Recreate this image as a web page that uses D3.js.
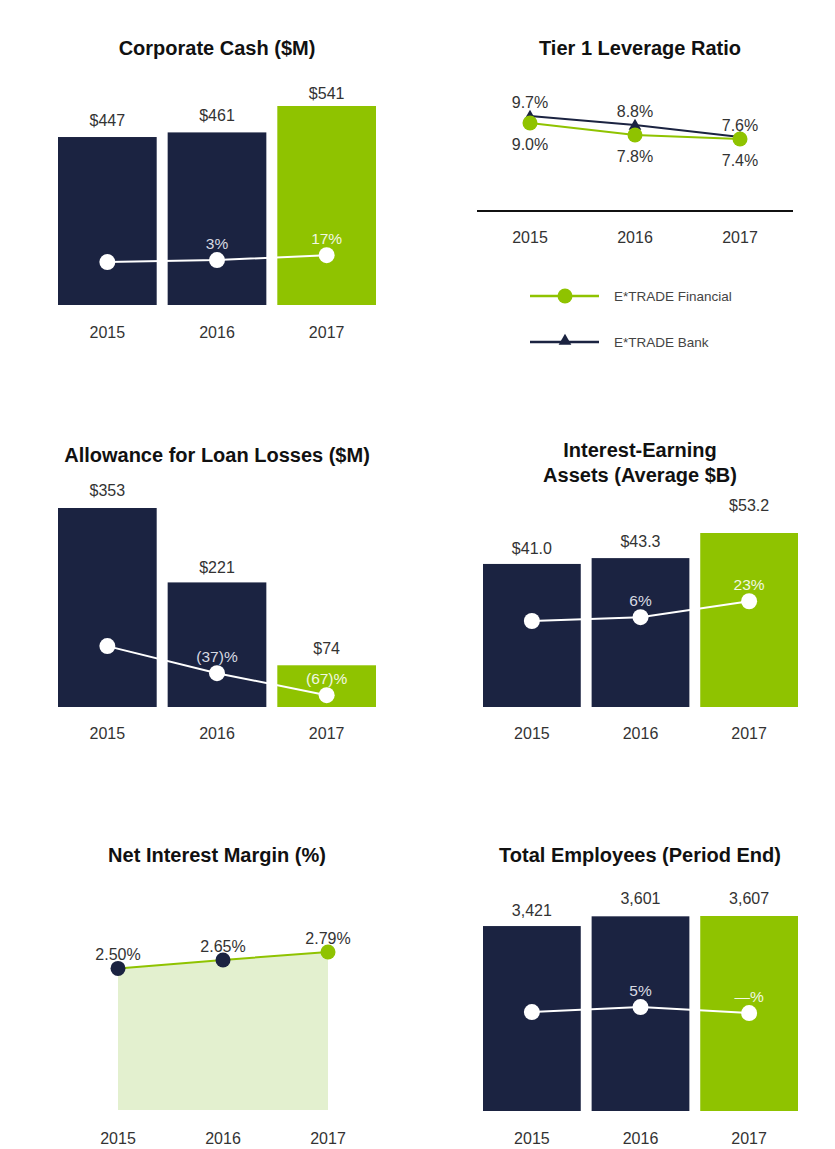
<!DOCTYPE html>
<html>
<head>
<meta charset="utf-8">
<script src="https://cdn.jsdelivr.net/npm/d3@7"></script>
<style>
body { margin: 0; background: #fff; }
text { font-family: "Liberation Sans", Arial, sans-serif; }
.title { font-size: 20px; font-weight: bold; fill: #111; }
.value, .year { font-size: 16px; fill: #333; }
.growth { font-size: 15.5px; }
.legend { font-size: 13.5px; fill: #444; }
</style>
</head>
<body>
<script>
const width = 835
const height = 1149
const navy = "#1b2341"
const green = "#8fc300"

const years = ["2015", "2016", "2017"]

const cashValues = [447, 461, 541]
const cashLabels = ["$447", "$461", "$541"]
const cashTrend = [68, 74, 89]
const cashGrowth = ["", "3%", "17%"]

const allowanceValues = [353, 221, 74]
const allowanceLabels = ["$353", "$221", "$74"]
const allowanceTrend = [108, 60, 21]
const allowanceGrowth = ["", "(37)%", "(67)%"]

const assetValues = [41.0, 43.3, 53.2]
const assetLabels = ["$41.0", "$43.3", "$53.2"]
const assetTrend = [18.5, 20.0, 26.3]
const assetGrowth = ["", "6%", "23%"]

const employeeValues = [3421, 3601, 3607]
const employeeLabels = ["3,421", "3,601", "3,607"]
const employeeTrend = [1830, 1922, 1811]
const employeeGrowth = ["", "5%", "—%"]

const leverageFinancial = [9.0, 7.8, 7.4]
const leverageBank = [9.7, 8.8, 7.6]
const leverageSeries = ["E*TRADE Financial", "E*TRADE Bank"]

const nimValues = [2.50, 2.65, 2.79]
const nimLabels = ["2.50%", "2.65%", "2.79%"]

const svg = d3.select("body").append("svg")
    .attr("width", width)
    .attr("height", height)
svg.append("rect").attr("width", width).attr("height", height).attr("fill", "#fff")

function title(lines, cx, y) {
    lines.forEach((line, i) => {
        svg.append("text")
            .attr("class", "title")
            .attr("x", cx)
            .attr("y", y + i * 25)
            .attr("text-anchor", "middle")
            .text(line)
    })
}

// bar panel with a white growth line across the bars
function barPanel(opts) {
    const {values, labels, trend, growth, x0, x1, base, top, domain, yearY, lift} = opts
    const x = d3.scaleBand().domain(years).range([x0, x1]).paddingInner(0.1).paddingOuter(0)
    const y = d3.scaleLinear().domain(domain).range([base, top])
    const g = svg.append("g")
    const rows = years.map((yr, i) => ({yr, i, v: values[i], label: labels[i], t: trend[i], growth: growth[i]}))

    g.selectAll("rect.bar").data(rows).enter().append("rect")
        .attr("class", "bar")
        .attr("x", d => x(d.yr))
        .attr("width", x.bandwidth())
        .attr("y", d => y(d.v))
        .attr("height", d => base - y(d.v))
        .attr("fill", d => d.i === 2 ? green : navy)

    g.selectAll("text.value").data(rows).enter().append("text")
        .attr("class", "value")
        .attr("x", d => x(d.yr) + x.bandwidth() / 2)
        .attr("y", d => y(d.v) - 11 - (lift ? lift[d.i] : 0))
        .attr("text-anchor", "middle")
        .text(d => d.label)

    const cx = d => x(d.yr) + x.bandwidth() / 2
    g.append("path")
        .datum(rows)
        .attr("d", d3.line().x(cx).y(d => y(d.t)))
        .attr("fill", "none")
        .attr("stroke", "#fff")
        .attr("stroke-width", 2)
    g.selectAll("circle.trend").data(rows).enter().append("circle")
        .attr("cx", cx)
        .attr("cy", d => y(d.t))
        .attr("r", 8)
        .attr("fill", "#fff")
    g.selectAll("text.growth").data(rows).enter().append("text")
        .attr("class", "growth")
        .attr("x", cx)
        .attr("y", d => y(d.t) - 11)
        .attr("text-anchor", "middle")
        .attr("fill", d => d.i === 2 ? "#f2f8e2" : "#d8dae2")
        .text(d => d.growth)

    g.selectAll("text.year").data(rows).enter().append("text")
        .attr("class", "year")
        .attr("x", cx)
        .attr("y", yearY)
        .attr("text-anchor", "middle")
        .text(d => d.yr)
}

// Corporate Cash
title(["Corporate Cash ($M)"], 217, 55)
barPanel({values: cashValues, labels: cashLabels, trend: cashTrend, growth: cashGrowth,
    x0: 58, x1: 376, base: 305, top: 106, domain: [-62, 541], yearY: 338, lift: [0, 0, -4]})

// Allowance for Loan Losses
title(["Allowance for Loan Losses ($M)"], 217, 462)
barPanel({values: allowanceValues, labels: allowanceLabels, trend: allowanceTrend, growth: allowanceGrowth,
    x0: 58, x1: 376, base: 707, top: 508, domain: [0, 353], yearY: 739, lift: [1, -2, 0]})

// Interest-Earning Assets
title(["Interest-Earning", "Assets (Average $B)"], 640, 457)
barPanel({values: assetValues, labels: assetLabels, trend: assetTrend, growth: assetGrowth,
    x0: 483, x1: 798, base: 707, top: 533, domain: [-15.4, 53.2], yearY: 739, lift: [-1, 0, 11]})

// Total Employees
title(["Total Employees (Period End)"], 640, 862)
barPanel({values: employeeValues, labels: employeeLabels, trend: employeeTrend, growth: employeeGrowth,
    x0: 483, x1: 798, base: 1111, top: 916, domain: [0, 3607], yearY: 1144, lift: [-1, 1, 1]})

// Tier 1 Leverage Ratio
title(["Tier 1 Leverage Ratio"], 640, 55)
{
    const x = d3.scalePoint().domain(years).range([530, 740])
    const y = d3.scaleLinear().domain([0, 10]).range([213, 113])
    const g = svg.append("g")
    g.append("line")
        .attr("x1", 477).attr("x2", 793)
        .attr("y1", y(0) - 2).attr("y2", y(0) - 2)
        .attr("stroke", "#111").attr("stroke-width", 2)
    g.selectAll("text.year").data(years).enter().append("text")
        .attr("class", "year")
        .attr("x", d => x(d)).attr("y", 243)
        .attr("text-anchor", "middle")
        .text(d => d)

    const line = d3.line().x((d, i) => x(years[i])).y(d => y(d))
    g.append("path").datum(leverageBank).attr("d", line)
        .attr("fill", "none").attr("stroke", navy).attr("stroke-width", 2)
    g.append("path").datum(leverageFinancial).attr("d", line)
        .attr("fill", "none").attr("stroke", green).attr("stroke-width", 2)
    const tri = d3.symbol().type(d3.symbolTriangle).size(70)
    g.selectAll("path.tri").data(leverageBank).enter().append("path")
        .attr("d", tri)
        .attr("transform", (d, i) => `translate(${x(years[i])},${y(d) + 1})`)
        .attr("fill", navy)
    g.selectAll("circle.fin").data(leverageFinancial).enter().append("circle")
        .attr("cx", (d, i) => x(years[i])).attr("cy", d => y(d))
        .attr("r", 7.5).attr("fill", green)
    g.selectAll("text.bank").data(leverageBank).enter().append("text")
        .attr("class", "value")
        .attr("x", (d, i) => x(years[i])).attr("y", (d, i) => y(d) - (i === 2 ? 6 : 8))
        .attr("text-anchor", "middle")
        .text(d => d.toFixed(1) + "%")
    g.selectAll("text.fin").data(leverageFinancial).enter().append("text")
        .attr("class", "value")
        .attr("x", (d, i) => x(years[i])).attr("y", (d, i) => y(d) + 27)
        .attr("text-anchor", "middle")
        .text(d => d.toFixed(1) + "%")

    // legend
    const leg = g.selectAll("g.legend").data(leverageSeries).enter().append("g")
        .attr("transform", (d, i) => `translate(530,${296 + i * 46})`)
    leg.append("line").attr("x1", 0).attr("x2", 69)
        .attr("stroke", (d, i) => i === 0 ? green : navy).attr("stroke-width", 2.5)
    leg.filter((d, i) => i === 0).append("circle").attr("cx", 35).attr("r", 7.5).attr("fill", green)
    leg.filter((d, i) => i === 1).append("path").attr("d", tri)
        .attr("transform", "translate(35,-1)").attr("fill", navy)
    leg.append("text").attr("class", "legend").attr("x", 84).attr("y", 5).text(d => d)
}

// Net Interest Margin
title(["Net Interest Margin (%)"], 217, 862)
{
    const x = d3.scalePoint().domain(years).range([118, 328])
    const y = d3.scaleLinear().domain([0, 2.79]).range([1110, 952])
    const g = svg.append("g")
    g.append("path").datum(nimValues)
        .attr("d", d3.area().x((d, i) => x(years[i])).y0(y(0)).y1(d => y(d)))
        .attr("fill", "#e3f0cf")
    g.append("path").datum(nimValues)
        .attr("d", d3.line().x((d, i) => x(years[i])).y(d => y(d)))
        .attr("fill", "none").attr("stroke", green).attr("stroke-width", 2)
    g.selectAll("circle").data(nimValues).enter().append("circle")
        .attr("cx", (d, i) => x(years[i])).attr("cy", d => y(d))
        .attr("r", 7.5).attr("fill", (d, i) => i === 2 ? green : navy)
    g.selectAll("text.value").data(nimValues).enter().append("text")
        .attr("class", "value")
        .attr("x", (d, i) => x(years[i])).attr("y", d => y(d) - 8)
        .attr("text-anchor", "middle")
        .text((d, i) => nimLabels[i])
    g.selectAll("text.year").data(years).enter().append("text")
        .attr("class", "year")
        .attr("x", d => x(d)).attr("y", 1144)
        .attr("text-anchor", "middle")
        .text(d => d)
}
</script>
</body>
</html>
